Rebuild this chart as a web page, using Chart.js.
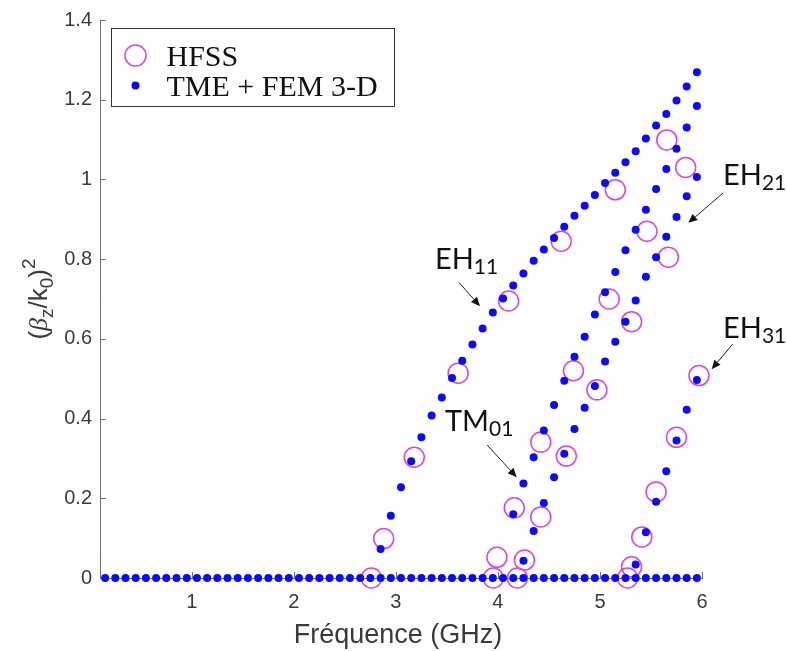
<!DOCTYPE html>
<html>
<head>
<meta charset="utf-8">
<style>
    body { margin: 0; background: #fff; }
    .canvas-hold { position: relative; width: 787px; height: 651px; }
</style>
</head>
<body>
<div class="canvas-hold"><canvas id="chart"></canvas></div>
<script src="https://cdn.jsdelivr.net/npm/chart.js@4.4.1/dist/chart.umd.min.js"></script>
<script>
// frequency grid of the TME + FEM 3-D solver (GHz)
const freqGrid = [0.15,0.25,0.35,0.45,0.55,0.65,0.75,0.85,0.95,1.05,1.15,1.25,1.35,1.45,1.55,1.65,1.75,1.85,1.95,2.05,
    2.15,2.25,2.35,2.45,2.55,2.65,2.75,2.85,2.95,3.05,3.15,3.25,3.35,3.45,3.55,3.65,3.75,3.85,3.95,4.05,
    4.15,4.25,4.35,4.45,4.55,4.65,4.75,4.85,4.95,5.05,5.15,5.25,5.35,5.45,5.55,5.65,5.75,5.85,5.95];
// modes below cut-off sit on zero
const belowCutoff = [0,0,0,0,0,0,0,0,0,0,0,0,0,0,0,0,0,0,0,0,0,0,0,0,0,0,0,0,0,0,
    0,0,0,0,0,0,0,0,0,0,0,0,0,0,0,0,0,0,0,0,0,0,0,0,0,0,0,0,0];

const eh11Freq = [2.85,2.95,3.05,3.15,3.25,3.35,3.45,3.55,3.65,3.75,3.85,3.95,4.05,4.15,4.25,4.35,
    4.45,4.55,4.65,4.75,4.85,4.95,5.05,5.15,5.25,5.35,5.45,5.55,5.65,5.75,5.85,5.95];
const eh11 = [0.073,0.156,0.228,0.293,0.353,0.408,0.453,0.502,0.545,0.586,0.626,0.666,0.701,0.734,0.764,0.796,
    0.824,0.853,0.881,0.909,0.934,0.961,0.991,1.017,1.043,1.071,1.103,1.135,1.164,1.198,1.233,1.269];

const tm01Freq = [4.15,4.25,4.35,4.45,4.55,4.65,4.75,4.85,4.95,5.05,5.15,5.25,5.35,5.45,5.55,5.65,5.75,5.85,5.95];
const tm01 = [0.16,0.237,0.303,0.37,0.434,0.495,0.555,0.605,0.661,0.717,0.768,0.822,0.874,0.924,0.976,1.026,1.077,1.13,1.184];

const eh21Freq = [4.25,4.35,4.45,4.55,4.65,4.75,4.85,4.95,5.05,5.15,5.25,5.35,5.45,5.55,5.65,5.75,5.85,5.95];
const eh21 = [0.043,0.118,0.188,0.253,0.312,0.374,0.427,0.482,0.543,0.593,0.643,0.696,0.756,0.805,0.856,0.906,0.958,1.006];

const eh31Freq = [5.35,5.45,5.55,5.65,5.75,5.85,5.95];
const eh31 = [0.034,0.115,0.191,0.268,0.345,0.422,0.497];

// HFSS reference points
const hfssFreq = [2.76,2.88,3.18,3.61,4.105,4.62,5.15,5.655,5.84,5.46,5.67,5.09,5.31,4.74,4.97,
    4.42,4.67,4.16,4.42,3.99,4.26,3.955,4.19,5.97,5.75,5.55,5.41,5.31,5.27];
const hfss = [0,0.099,0.303,0.514,0.695,0.845,0.974,1.099,1.03,0.87,0.805,0.70,0.643,0.52,0.472,
    0.341,0.306,0.176,0.153,0.052,0.045,0,0,0.508,0.353,0.216,0.103,0.028,0];

const xTicks = [1, 2, 3, 4, 5, 6];
const yTicks = [0, 0.2, 0.4, 0.6, 0.8, 1, 1.2, 1.4];

// mode labels, placed in data units
const modeLabels = [
    { name: 'EH', sub: '11', at: [3.383, 0.775], from: [3.62, 0.741], to: [3.824, 0.682] },
    { name: 'EH', sub: '21', at: [6.206, 0.985], from: [6.207, 0.966], to: [5.866, 0.891] },
    { name: 'EH', sub: '31', at: [6.206, 0.603], from: [6.301, 0.587], to: [6.095, 0.524] },
    { name: 'TM', sub: '01', at: [3.481, 0.370], from: [3.896, 0.333], to: [4.184, 0.253] }
];

const hfssColor = '#e040dc';
const tmeColor = '#0a0aff';
const axisGrey = '#707070';
const textGrey = '#3a3a3a';

function pts(xs, ys) {
    return xs.map((x, i) => ({ x: x, y: ys[i] }));
}

const tmePoints = [].concat(
    pts(freqGrid, belowCutoff), pts(eh11Freq, eh11), pts(tm01Freq, tm01),
    pts(eh21Freq, eh21), pts(eh31Freq, eh31));

function drawRich(ctx, parts, x, y) {
    // parts: [text, font, dy]
    let cx = x;
    parts.forEach(p => {
        ctx.font = p[1];
        ctx.fillText(p[0], cx, y + p[2]);
        cx += ctx.measureText(p[0]).width;
    });
    return cx - x;
}
function richWidth(ctx, parts) {
    let w = 0;
    parts.forEach(p => { ctx.font = p[1]; w += ctx.measureText(p[0]).width; });
    return w;
}

function arrow(ctx, x1, y1, x2, y2) {
    const ang = Math.atan2(y2 - y1, x2 - x1);
    const hl = 9, hw = 4;
    ctx.beginPath();
    ctx.moveTo(x1, y1);
    ctx.lineTo(x2 - Math.cos(ang) * hl, y2 - Math.sin(ang) * hl);
    ctx.stroke();
    ctx.beginPath();
    ctx.moveTo(x2, y2);
    ctx.lineTo(x2 - Math.cos(ang) * hl - Math.sin(ang) * hw, y2 - Math.sin(ang) * hl + Math.cos(ang) * hw);
    ctx.lineTo(x2 - Math.cos(ang) * hl + Math.sin(ang) * hw, y2 - Math.sin(ang) * hl - Math.cos(ang) * hw);
    ctx.closePath();
    ctx.fill();
}

const decorations = {
    id: 'decorations',
    beforeDatasetsDraw(chart) {
        const { ctx, chartArea: a, scales: { x, y } } = chart;
        ctx.save();
        ctx.strokeStyle = axisGrey;
        ctx.lineWidth = 1;
        yTicks.forEach(v => {
            const py = Math.round(y.getPixelForValue(v)) + 0.5;
            ctx.beginPath(); ctx.moveTo(a.left, py); ctx.lineTo(a.left + 6, py); ctx.stroke();
        });
        xTicks.forEach(v => {
            const px = Math.round(x.getPixelForValue(v)) + 0.5;
            ctx.beginPath(); ctx.moveTo(px, a.bottom); ctx.lineTo(px, a.bottom - 6); ctx.stroke();
        });
        ctx.restore();
    },
    afterDraw(chart) {
        const { ctx, chartArea: a, scales: { x, y } } = chart;
        ctx.save();

        // x title
        ctx.fillStyle = textGrey;
        ctx.textAlign = 'center';
        ctx.textBaseline = 'alphabetic';
        ctx.font = '27px "Liberation Sans", Arial, sans-serif';
        ctx.fillText('Fréquence (GHz)', (a.left + a.right) / 2 - 3, 643);

        // y title (β_z / k_0)^2, rotated
        ctx.textAlign = 'left';
        const main = '26px "Liberation Sans", Arial, sans-serif';
        const small = '19px "Liberation Sans", Arial, sans-serif';
        const yParts = [['(', main, 0], ['β', 'italic 26px "Liberation Serif", serif', 0], ['z', small, 6],
            ['/k', main, 0], ['0', small, 6], [')', main, 0], ['2', small, -12]];
        ctx.save();
        ctx.translate(47, (a.top + a.bottom) / 2);
        ctx.rotate(-Math.PI / 2);
        const yw = richWidth(ctx, yParts);
        drawRich(ctx, yParts, -yw / 2, 0);
        ctx.restore();

        // mode labels with arrows
        ctx.fillStyle = '#111';
        ctx.strokeStyle = '#222';
        ctx.lineWidth = 1;
        modeLabels.forEach(m => {
            const lx = x.getPixelForValue(m.at[0]), ly = y.getPixelForValue(m.at[1]);
            drawRich(ctx, [[m.name, '29px Lato, "Open Sans", sans-serif', 0],
                [m.sub, '21px Lato, "Open Sans", sans-serif', 5]], lx, ly);
            arrow(ctx, x.getPixelForValue(m.from[0]), y.getPixelForValue(m.from[1]),
                x.getPixelForValue(m.to[0]), y.getPixelForValue(m.to[1]));
        });

        // legend box
        const lx = a.left + 11.5, ly = a.top + 8.5, lw = 283, lh = 78;
        ctx.fillStyle = '#fff';
        ctx.fillRect(lx, ly, lw, lh);
        ctx.strokeStyle = '#333';
        ctx.lineWidth = 1;
        ctx.strokeRect(lx, ly, lw, lh);
        ctx.strokeStyle = hfssColor;
        ctx.lineWidth = 1.5;
        ctx.beginPath(); ctx.arc(lx + 24, ly + 27, 10.5, 0, Math.PI * 2); ctx.stroke();
        ctx.fillStyle = tmeColor;
        ctx.beginPath(); ctx.arc(lx + 24, ly + 57, 4, 0, Math.PI * 2); ctx.fill();
        ctx.fillStyle = '#111';
        ctx.font = '30px "Liberation Serif", "Times New Roman", serif';
        ctx.textBaseline = 'alphabetic';
        ctx.fillText('HFSS', lx + 55, ly + 37);
        ctx.fillText('TME + FEM 3-D', lx + 55, ly + 67);

        ctx.restore();
    }
};

const chart = new Chart(document.getElementById('chart').getContext('2d'), {
    type: 'scatter',
    data: {
        datasets: [{
            label: 'TME + FEM 3-D',
            data: tmePoints,
            pointRadius: 4,
            pointBorderWidth: 0,
            pointBackgroundColor: tmeColor,
            pointBorderColor: tmeColor,
            clip: false,
            order: 0
        }, {
            label: 'HFSS',
            data: pts(hfssFreq, hfss),
            pointRadius: 10,
            pointBorderWidth: 1.5,
            pointBackgroundColor: 'rgba(0,0,0,0)',
            pointBorderColor: hfssColor,
            clip: false,
            order: 1
        }]
    },
    options: {
        responsive: true,
        maintainAspectRatio: false,
        animation: false,
        layout: { padding: { left: 0, top: 18, right: 85, bottom: 0 } },
        plugins: { legend: { display: false }, tooltip: { enabled: false } },
        scales: {
            x: {
                type: 'linear',
                min: 0.1,
                max: 6,
                afterFit: s => { s.height = 73; },
                afterBuildTicks: s => { s.ticks = xTicks.map(v => ({ value: v })); },
                grid: { display: false, drawTicks: false },
                border: { display: true, color: axisGrey, width: 1 },
                ticks: {
                    padding: 12,
                    color: textGrey,
                    font: { family: '"Liberation Sans", Arial, sans-serif', size: 20 },
                    callback: v => String(v)
                }
            },
            y: {
                type: 'linear',
                min: 0,
                max: 1.4,
                afterFit: s => { s.width = 100; },
                afterBuildTicks: s => { s.ticks = yTicks.map(v => ({ value: v })); },
                grid: { display: false, drawTicks: false },
                border: { display: true, color: axisGrey, width: 1 },
                ticks: {
                    padding: 8,
                    color: textGrey,
                    font: { family: '"Liberation Sans", Arial, sans-serif', size: 20 },
                    callback: v => String(+v.toFixed(1))
                }
            }
        }
    },
    plugins: [decorations]
});
</script>
</body>
</html>
